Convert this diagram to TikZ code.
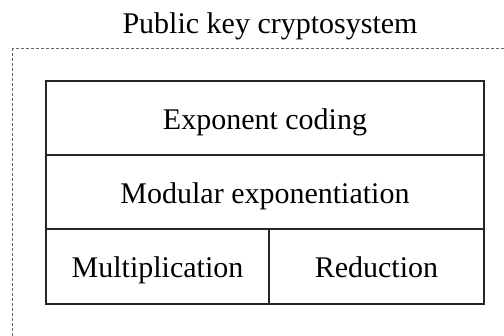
\documentclass[tikz,border=0pt]{standalone}
\usepackage{fontspec}
\setmainfont{Liberation Serif}
\begin{document}
\begin{tikzpicture}[x=1pt,y=1pt,
  label text/.style={font=\fontsize{30}{36}\selectfont, text=black,
    text height=24.5pt, text depth=2pt, inner sep=0pt},
  cell/.style={label text, draw=black!85, line width=1.1pt, rectangle},
  frame/.style={draw=black!60, line width=0.9pt, dash pattern=on 3pt off 2pt}]
  \useasboundingbox (0,0) rectangle (504,336);
  \begin{scope}
    \clip (0,0) rectangle (504,336);
    \draw[frame] (12.5,288) rectangle (530,-20);
  \end{scope}
  \node[label text] (title) at (270,314) {Public key cryptosystem};
  \node[cell, minimum width=438pt, minimum height=74pt] (ec) at (265,218) {Exponent coding};
  \node[cell, minimum width=438pt, minimum height=74pt] (me) at (265,144) {Modular exponentiation};
  \node[cell, minimum width=223pt, minimum height=75pt] (mul) at (157.5,69.5) {Multiplication};
  \node[cell, minimum width=215pt, minimum height=75pt] (red) at (376.5,69.5) {Reduction};
\end{tikzpicture}
\end{document}
